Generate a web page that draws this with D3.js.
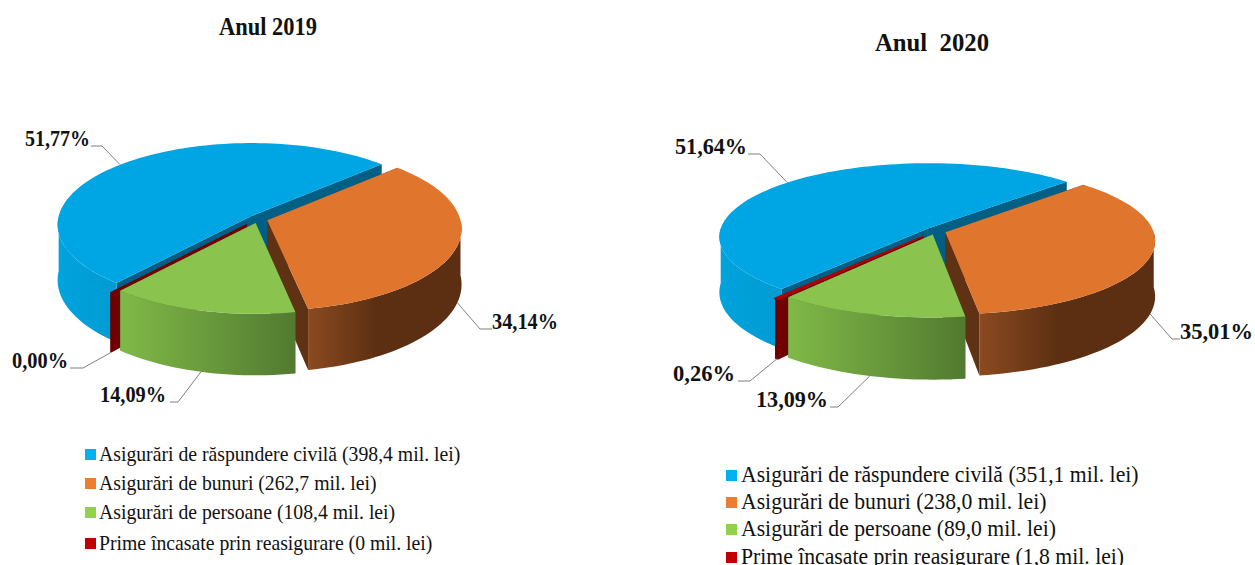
<!DOCTYPE html>
<html>
<head>
<meta charset="utf-8">
<script src="https://cdn.jsdelivr.net/npm/d3@7"></script>
<style>
  html, body { margin: 0; background: #fff; overflow: hidden; }
  svg { display: block; }
  text { font-family: "Liberation Serif", serif; fill: #111; }
</style>
</head>
<body>
<svg id="chart" width="1255" height="565"></svg>
<script>
// chart values
const titles = ['Anul 2019', 'Anul  2020']
const categories = ['Asigurări de răspundere civilă', 'Asigurări de bunuri', 'Asigurări de persoane', 'Prime încasate prin reasigurare']
const shares2019 = [51.77, 34.14, 14.09, 0.00]
const shares2020 = [51.64, 35.01, 13.09, 0.26]
const amounts2019 = ['398,4', '262,7', '108,4', '0']
const amounts2020 = ['351,1', '238,0', '89,0', '1,8']

// one style per slice, same order as categories
const styles = [
    {top: '#00a5e3', face: '#005f85', left: '#00a3dd', right: '#009bd3', key: '#00b0f0'},
    {top: '#e0762e', face: '#5f3213', left: '#8b4a20', right: '#5c2f12', key: '#ed7d31'},
    {top: '#8ac44e', face: '#527a30', left: '#80b948', right: '#527a30', key: '#92d050'},
    {top: '#b00000', face: '#700000', left: '#700000', right: '#700000', key: '#c00000'}
]

// back to front
const drawOrder = [0, 1, 3, 2]

const pies = [
    {
        id: 'a', shares: shares2019, amounts: amounts2019, title: titles[0], titleX: 268, titleY: 35, titleW: 98, titleSize: 25,
        cx: 258, cy: 219, rx: 193, ry: 81, depth: 55, persp: 0.1, start: 220, explode: [0.05, 0.05, 0.05, 0.09],
        // label x, baseline y, elbow x, end of the short horizontal piece
        labels: [[25, 146, 102, 91], [492, 329, 480, 492], [100, 402, 178, 170], [12, 368, 83, 70]],
        labelW: [65, 66, 66, 56],
        legendX: 85, legendTextX: 99, legendY: [455, 484, 513, 544], legendSize: 22, legendStretch: 0.896
    },
    {
        id: 'b', shares: shares2020, amounts: amounts2020, title: titles[1], titleX: 932, titleY: 51, titleW: 114, titleSize: 25,
        cx: 935.5, cy: 231, rx: 208, ry: 73, depth: 55, persp: 0.11, start: 220, explode: [0.05, 0.05, 0.05, 0.09],
        labels: [[675, 154, 760, 748], [1180, 339, 1172, 1180], [756, 407, 838, 830], [673, 381, 750, 738]],
        labelW: [72, 73, 72, 62],
        legendX: 726, legendTextX: 741, legendY: [476, 503, 530, 558], legendSize: 23, legendStretch: 0.943
    }
]

const svg = d3.select('#chart')
const defs = svg.append('defs')
const rad = Math.PI / 180
const line = d3.line().x(d => d[0]).y(d => d[1])

function drawPie(p){
    const g = svg.append('g').attr('id', 'pie-' + p.id)

    const pie = d3.pie().sort(null)
        .startAngle(p.start * rad)
        .endAngle((p.start + 360) * rad)
    const slices = pie(p.shares)

    // unit disc -> screen, with a slight perspective towards the viewer
    function project(u, v, h, ox, oy){
        const s = 1 / (1 - p.persp * (v + oy))
        return [p.cx + p.rx * (u + ox) * s, p.cy + (p.ry * (v + oy) + p.depth * h) * s]
    }
    function rim(a, h, ox, oy){
        return project(Math.sin(a), -Math.cos(a), h, ox, oy)
    }
    function arcPts(a0, a1, h, ox, oy){
        const n = Math.max(2, Math.ceil((a1 - a0) / (2 * rad)))
        return d3.range(n + 1).map(i => rim(a0 + (a1 - a0) * i / n, h, ox, oy))
    }

    drawOrder.forEach(i => {
        const d = slices[i]
        const st = styles[i]
        const mid = (d.startAngle + d.endAngle) / 2
        const ox = p.explode[i] * Math.sin(mid)
        const oy = -p.explode[i] * Math.cos(mid)
        const apexTop = project(0, 0, 0, ox, oy)
        const apexBot = project(0, 0, 1, ox, oy)

        // cut faces
        ;[d.startAngle, d.endAngle].forEach(a => {
            g.append('path')
                .attr('d', line([apexTop, rim(a, 0, ox, oy), rim(a, 1, ox, oy), apexBot]) + 'Z')
                .attr('fill', st.face)
        })

        // outer wall, only the part turned to the viewer
        ;[0, 360].forEach(turn => {
            const a0 = Math.max(d.startAngle, (90 + turn) * rad)
            const a1 = Math.min(d.endAngle, (270 + turn) * rad)
            if (a1 <= a0) return
            const pts = arcPts(a0, a1, 0, ox, oy)
            const low = arcPts(a0, a1, 1, ox, oy).reverse()
            const xs = pts.map(q => q[0])
            const gid = 'side-' + p.id + i + turn
            const grad = defs.append('linearGradient').attr('id', gid)
                .attr('gradientUnits', 'userSpaceOnUse')
                .attr('x1', d3.min(xs)).attr('x2', d3.max(xs)).attr('y1', 0).attr('y2', 0)
            grad.append('stop').attr('offset', 0).attr('stop-color', st.left)
            grad.append('stop').attr('offset', i === 1 ? 0.45 : 1).attr('stop-color', st.right)
            g.append('path')
                .attr('d', line(pts.concat(low)) + 'Z')
                .attr('fill', 'url(#' + gid + ')')
        })

        // top surface
        g.append('path')
            .attr('d', line([apexTop].concat(arcPts(d.startAngle, d.endAngle, 0, ox, oy))) + 'Z')
            .attr('fill', st.top)
            .attr('stroke', i === 3 ? (p.shares[i] > 0 ? st.top : st.face) : 'none')
            .attr('stroke-width', i === 3 ? 1.5 : 0)

        // leader line and value label
        const front = -Math.cos(mid) > 0
        const anchor = rim(mid, front ? 1 : 0, ox, oy)
        const lab = p.labels[i]
        g.append('path')
            .attr('d', line([anchor, [lab[2], lab[1]], [lab[3], lab[1]]]))
            .attr('fill', 'none').attr('stroke', '#7f7f7f').attr('stroke-width', 1)
        g.append('text')
            .attr('x', lab[0]).attr('y', lab[1])
            .attr('font-size', 23).attr('font-weight', 'bold')
            .attr('textLength', p.labelW[i]).attr('lengthAdjust', 'spacingAndGlyphs')
            .text(d3.format('.2f')(p.shares[i]).replace('.', ',') + '%')
    })

    g.append('text')
        .attr('x', p.titleX).attr('y', p.titleY)
        .attr('text-anchor', 'middle')
        .attr('font-size', p.titleSize).attr('font-weight', 'bold')
        .attr('textLength', p.titleW).attr('lengthAdjust', 'spacingAndGlyphs')
        .style('white-space', 'pre')
        .text(p.title)

    // legend
    const rows = g.selectAll('g.key').data(categories).enter().append('g').attr('class', 'key')
    rows.append('rect')
        .attr('x', p.legendX).attr('y', (d, i) => p.legendY[i] - 6)
        .attr('width', 11).attr('height', 11)
        .attr('fill', (d, i) => styles[i].key)
    rows.append('text')
        .attr('x', p.legendTextX).attr('y', (d, i) => p.legendY[i] + 6)
        .attr('font-size', p.legendSize)
        .text((d, i) => d + ' (' + p.amounts[i] + ' mil. lei)')
        .each(function(){
            d3.select(this)
                .attr('textLength', this.getComputedTextLength() * p.legendStretch)
                .attr('lengthAdjust', 'spacingAndGlyphs')
        })
}

pies.forEach(drawPie)
</script>
</body>
</html>
